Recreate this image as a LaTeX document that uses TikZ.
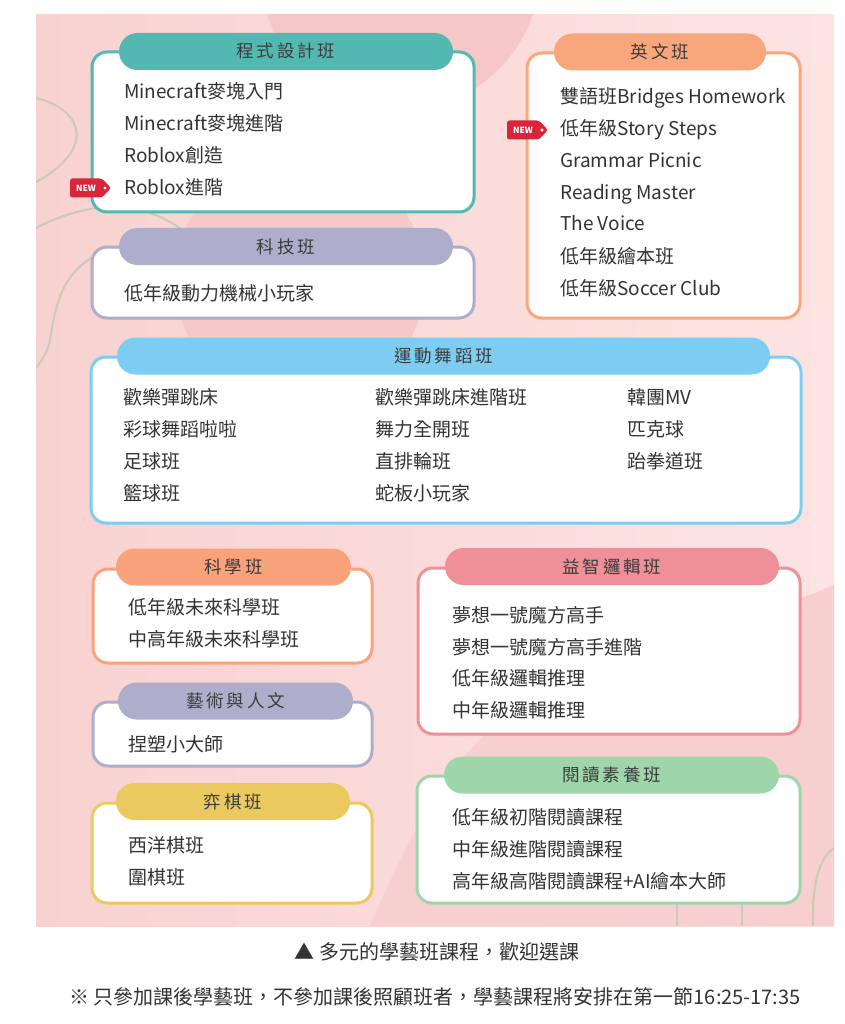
\documentclass[tikz,border=0pt]{standalone}
\usepackage{fontspec}
\setmainfont{Noto Sans CJK TC}
\newfontfamily\headfont{Noto Sans CJK TC}[LetterSpace=16]
\usepackage{tikz}
\definecolor{bgleft}{HTML}{F8D2D1}
\definecolor{bgright}{HTML}{FCE4E2}
\definecolor{blob}{HTML}{F6C7C7}
\definecolor{blobsoft}{HTML}{F8CFCF}
\definecolor{wavegreen}{HTML}{C6CDB4}
\definecolor{cteal}{HTML}{52B8B1}
\definecolor{clav}{HTML}{AEADCB}
\definecolor{corange}{HTML}{F8A67C}
\definecolor{cblue}{HTML}{7DCDF3}
\definecolor{csalmon}{HTML}{F9A27B}
\definecolor{cyellow}{HTML}{EAC95F}
\definecolor{cpink}{HTML}{EF8F98}
\definecolor{cgreen}{HTML}{9ED5AA}
\definecolor{tagred}{HTML}{D92539}
\definecolor{headtext}{HTML}{3C3C3C}
\definecolor{itemtext}{HTML}{333333}
\tikzset{
  classbox/.style={draw=#1, line width=3pt, fill=white, rounded corners=15pt},
  classhead/.style={fill=#1, rounded corners=18.5pt, minimum height=37pt, inner sep=0pt,
    text height=15pt, text depth=2pt, text=headtext, font=\headfont\fontsize{17.5}{17.5}\selectfont},
  item/.style={anchor=west, inner sep=0pt, text height=16pt, text depth=2pt,
    text=itemtext, font=\fontsize{19}{19}\selectfont},
  wave/.style={draw=wavegreen, line width=2pt},
  newtext/.style={inner sep=0pt, text=white, font=\bfseries\fontsize{8.5}{8.5}\selectfont},
  footline/.style={inner sep=0pt, text=itemtext, font=\fontsize{20}{20}\selectfont}
}

\begin{document}
\begin{tikzpicture}[x=1pt,y=-1pt]
        \useasboundingbox (0,0) rectangle (844,1024);
        \fill[white] (0,0) rectangle (844,1024);

        % background panel
        \shade[left color=bgleft, right color=bgright] (36,15) rectangle (834,926);
        \begin{scope}
        \clip (36,15) rectangle (834,926);
        \fill[blob] (400,-30) circle (140pt);
        \fill[blob] (300,280) circle (125pt);
        \fill[blobsoft] (834,585) .. controls (700,640) and (520,690) .. (470,750)
              .. controls (420,810) and (390,880) .. (370,926) -- (834,926) -- cycle;
        \draw[wave] (36,98) .. controls (85,110) and (95,150) .. (36,182);
        \draw[wave] (36,228) .. controls (90,200) and (150,195) .. (200,245);
        \draw[wave] (110,250) .. controls (60,265) and (55,310) .. (50,340)
              .. controls (47,355) and (40,362) .. (36,368);
        \draw[wave] (677,903) -- (677,926);
        \draw[wave] (742,903) -- (742,926);
        \draw[wave] (813,926) .. controls (812,880) and (820,858) .. (834,848);
        \end{scope}

        % 程式設計班
        \draw[classbox=cteal] (92,52) rectangle (474,212);
        \node (prog) at (286,51.5)[classhead=cteal, minimum width=334pt]{程式設計班};
        \node (prog1) at (124,92)[item]{Minecraft麥塊入門};
        \node (prog2) at (124,124)[item]{Minecraft麥塊進階};
        \node (prog3) at (124,156)[item]{Roblox創造};
        \node (prog4) at (124,188)[item]{Roblox進階};
        \fill[tagred, rounded corners=2.5pt] (70,178.5) -- (102,178.5) -- (111,188) -- (102,197.5) -- (70,197.5) -- cycle;
        \fill[white] (105,188) circle (1.6pt);
        \node (newprog) at (86,188.5)[newtext]{NEW};

        % 科技班
        \draw[classbox=clav] (92,247) rectangle (474,318);
        \node (tech) at (286,246.5)[classhead=clav, minimum width=334pt]{科技班};
        \node (tech1) at (124,293)[item]{低年級動力機械小玩家};

        % 英文班
        \draw[classbox=corange] (527,53) rectangle (800,318);
        \node (eng) at (660,52)[classhead=corange, minimum width=212pt]{英文班};
        \node (eng1) at (560,97)[item]{雙語班Bridges Homework};
        \node (eng2) at (560,129)[item]{低年級Story Steps};
        \node (eng3) at (560,161)[item]{Grammar Picnic};
        \node (eng4) at (560,193)[item]{Reading Master};
        \node (eng5) at (560,224)[item]{The Voice};
        \node (eng6) at (560,256)[item]{低年級繪本班};
        \node (eng7) at (560,288)[item]{低年級Soccer Club};
        \fill[tagred, rounded corners=2.5pt] (507,120.5) -- (539,120.5) -- (548,130) -- (539,139.5) -- (507,139.5) -- cycle;
        \fill[white] (542,130) circle (1.6pt);
        \node (neweng) at (523,130.5)[newtext]{NEW};

        % 運動舞蹈班
        \draw[classbox=cblue] (91,357) rectangle (801,523);
        \node (sport) at (443.5,356)[classhead=cblue, minimum width=653pt]{運動舞蹈班};
        \node (sport1) at (123,397)[item]{歡樂彈跳床};
        \node (sport2) at (123,429)[item]{彩球舞蹈啦啦};
        \node (sport3) at (123,461)[item]{足球班};
        \node (sport4) at (123,493)[item]{籃球班};
        \node (sport5) at (375,397)[item]{歡樂彈跳床進階班};
        \node (sport6) at (375,429)[item]{舞力全開班};
        \node (sport7) at (375,461)[item]{直排輪班};
        \node (sport8) at (375,493)[item]{蛇板小玩家};
        \node (sport9) at (627,397)[item]{韓團MV};
        \node (sport10) at (627,429)[item]{匹克球};
        \node (sport11) at (627,461)[item]{跆拳道班};

        % 科學班
        \draw[classbox=csalmon] (93,569) rectangle (372,663);
        \node (sci) at (233.5,567)[classhead=csalmon, minimum width=235pt]{科學班};
        \node (sci1) at (128,607)[item]{低年級未來科學班};
        \node (sci2) at (128,639)[item]{中高年級未來科學班};

        % 藝術與人文
        \draw[classbox=clav] (93,702) rectangle (372,766);
        \node (art) at (235.5,701)[classhead=clav, minimum width=235pt]{藝術與人文};
        \node (art1) at (128,744)[item]{捏塑小大師};

        % 弈棋班
        \draw[classbox=cyellow] (92,803) rectangle (372,903);
        \node (chess) at (233,801.5)[classhead=cyellow, minimum width=234pt]{弈棋班};
        \node (chess1) at (128,845)[item]{西洋棋班};
        \node (chess2) at (128,877)[item]{圍棋班};

        % 益智邏輯班
        \draw[classbox=cpink] (418,568) rectangle (800,734);
        \node (logic) at (612,566.5)[classhead=cpink, minimum width=334pt]{益智邏輯班};
        \node (logic1) at (452,615)[item]{夢想一號魔方高手};
        \node (logic2) at (452,647)[item]{夢想一號魔方高手進階};
        \node (logic3) at (452,678)[item]{低年級邏輯推理};
        \node (logic4) at (452,710)[item]{中年級邏輯推理};

        % 閱讀素養班
        \draw[classbox=cgreen] (417,776) rectangle (800,903);
        \node (read) at (611.5,775)[classhead=cgreen, minimum width=335pt]{閱讀素養班};
        \node (read1) at (452,817)[item]{低年級初階閱讀課程};
        \node (read2) at (452,849)[item]{中年級進階閱讀課程};
        \node (read3) at (452,881)[item]{高年級高階閱讀課程+AI繪本大師};

        \node (caption) at (437,952)[footline]{▲ 多元的學藝班課程，歡迎選課};
        \node (note) at (435,997)[footline]{※ 只參加課後學藝班，不參加課後照顧班者，學藝課程將安排在第一節16:25-17:35};
\end{tikzpicture}
\end{document}
